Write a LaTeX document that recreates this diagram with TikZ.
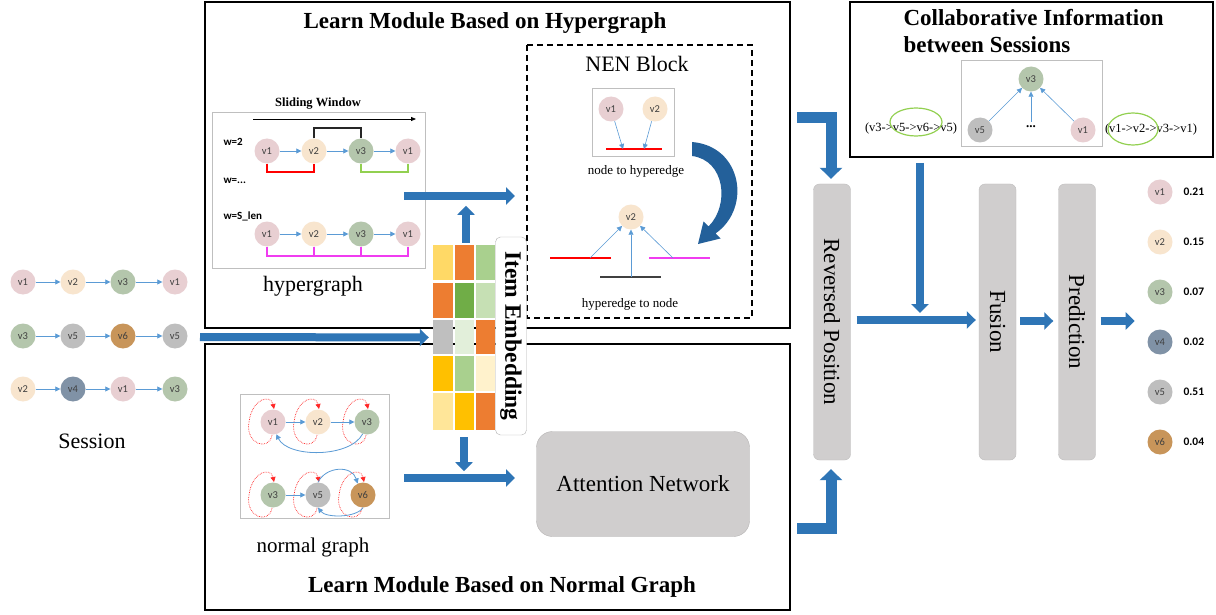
\documentclass[tikz,border=0pt]{standalone}
\usepackage{fontspec}
\setmainfont{Liberation Serif}
\newfontfamily\carl{Carlito}
\usetikzlibrary{arrows.meta,calc}
\definecolor{bblue}{HTML}{2E75B6}
\definecolor{dblue}{HTML}{23609A}
\definecolor{lblue}{HTML}{5B9BD5}
\definecolor{cA}{HTML}{E8CFD2}
\definecolor{cB}{HTML}{F8E5CE}
\definecolor{cC}{HTML}{B4C6AC}
\definecolor{cD}{HTML}{8092A6}
\definecolor{cE}{HTML}{BEBEBE}
\definecolor{cF}{HTML}{C8955A}
\definecolor{boxg}{HTML}{D0CECE}
\definecolor{magent}{HTML}{F03CF0}
\definecolor{lgreen}{HTML}{92D050}
\definecolor{eY}{HTML}{FFD966}
\definecolor{eO}{HTML}{ED7D31}
\definecolor{eG}{HTML}{A9D08E}
\definecolor{eDG}{HTML}{70AD47}
\definecolor{eLG}{HTML}{C6E0B4}
\definecolor{eGr}{HTML}{BFBFBF}
\definecolor{eVLG}{HTML}{E2EFDA}
\definecolor{eAm}{HTML}{FFC000}
\definecolor{eCr}{HTML}{FFF2CC}
\definecolor{eLY}{HTML}{FFE699}
\tikzset{
  vc/.style={circle,minimum size=25pt,inner sep=0pt,font=\carl\fontsize{10.5}{10.5}\selectfont,text=black!75},
  va/.style={vc,fill=cA}, vb/.style={vc,fill=cB}, vcc/.style={vc,fill=cC},
  vd/.style={vc,fill=cD}, ve/.style={vc,fill=cE}, vf/.style={vc,fill=cF},
  sarr/.style={draw=lblue,line width=0.8pt,-{Triangle[length=5pt,width=5pt]}},
  bigarr/.style={draw=bblue,line width=8pt,-{Triangle[length=9pt,width=17pt]}},
  elb/.style={draw=bblue,line width=11pt,-{Triangle[length=11pt,width=22pt]}},
  modbox/.style={draw=black,line width=1.3pt},
  thinbox/.style={draw=black!25,line width=0.8pt},
  gbox/.style={fill=boxg,draw=boxg!92!black,rounded corners=6pt,rotate=-90,minimum width=276pt,minimum height=37pt,font=\fontsize{23}{23}\selectfont},
  loopst/.style={draw=red!85,densely dotted,line width=0.7pt,-{Triangle[length=5pt,width=5pt]}},
  ttl/.style={font=\bfseries\fontsize{23}{23}\selectfont},
}
\newcommand\sloop[1]{\draw[loopst] ($(#1)+(-1,13)$) .. controls ($(#1)+(-4,30)$) and ($(#1)+(-28,22)$) .. ($(#1)+(-24,0)$) .. controls ($(#1)+(-21,-24)$) and ($(#1)+(-2,-28)$) .. ($(#1)+(1,-13)$);}
\begin{document}
\begin{tikzpicture}[x=1pt,y=-1pt]
\useasboundingbox (0,0) rectangle (1216,615);
\fill[white] (0,0) rectangle (1216,615);
% ---------- module boxes
\draw[modbox] (205,2) rectangle (790,328);
\draw[modbox] (205,344) rectangle (790,610);
\node[ttl] (t1) at (485,23) {Learn Module Based on Hypergraph};
\node[ttl] (t2) at (502,587) {Learn Module Based on Normal Graph};
% ---------- sessions
\node[va] (s11) at (23,282) {v1}; \node[vb] (s12) at (73,282) {v2};
\node[vcc] (s13) at (123,282) {v3}; \node[va] (s14) at (175,282) {v1};
\node[vcc] (s21) at (23,336) {v3}; \node[ve] (s22) at (73,336) {v5};
\node[vf] (s23) at (123,336) {v6}; \node[ve] (s24) at (175,336) {v5};
\node[vb] (s31) at (23,389) {v2}; \node[vd] (s32) at (73,389) {v4};
\node[va] (s33) at (123,389) {v1}; \node[vcc] (s34) at (175,389) {v3};
\foreach \r in {1,2,3}{
  \draw[sarr] (s\r1) -- (s\r2); \draw[sarr] (s\r2) -- (s\r3); \draw[sarr] (s\r3) -- (s\r4);}
\node[font=\fontsize{22}{22}\selectfont] (sess) at (92,441) {Session};
% ---------- hypergraph
\draw[thinbox] (212,112) rectangle (425,268);
\node[font=\bfseries\fontsize{12.5}{12.5}\selectfont] (swt) at (318,104) {Sliding Window};
\coordinate (sw1) at (253,119); \coordinate (sw2) at (416,119);
\draw[line width=0.8pt,-{Triangle[length=5pt,width=4pt]}] (sw1) -- (sw2);
\node[anchor=west,font=\carl\bfseries\fontsize{11}{11}\selectfont] (w1) at (220,142) {w=2};
\node[anchor=west,font=\carl\bfseries\fontsize{11}{11}\selectfont] (w2) at (220,181) {w=...};
\node[anchor=west,font=\carl\bfseries\fontsize{11}{11}\selectfont] (w3) at (220,216) {w=S\_len};
\node[va] (h11) at (267,151) {v1}; \node[vb] (h12) at (314,151) {v2};
\node[vcc] (h13) at (361,151) {v3}; \node[va] (h14) at (408,151) {v1};
\draw[sarr] (h11) -- (h12); \draw[sarr] (h12) -- (h13); \draw[sarr] (h13) -- (h14);
\coordinate (rb) at (0,172); \coordinate (tb) at (0,128); \coordinate (mb) at (0,256);
\draw[red,line width=1.3pt] (h11.south) -- (h11.south |- rb) -- (h12.south |- rb) -- (h12.south);
\draw[lgreen,line width=1.3pt] (h13.south) -- (h13.south |- rb) -- (h14.south |- rb) -- (h14.south);
\draw[black!85,line width=1.3pt] (h12.north) -- (h12.north |- tb) -- (h13.north |- tb) -- (h13.north);
\node[va] (k1) at (267,234) {v1}; \node[vb] (k2) at (314,234) {v2};
\node[vcc] (k3) at (361,234) {v3}; \node[va] (k4) at (408,234) {v1};
\draw[sarr] (k1) -- (k2); \draw[sarr] (k2) -- (k3); \draw[sarr] (k3) -- (k4);
\draw[magent,line width=1.3pt] (k1.south) -- (k1.south |- mb) -- (k4.south |- mb) -- (k4.south);
\draw[magent,line width=1.3pt] (k2.south) -- (k2.south |- mb);
\draw[magent,line width=1.3pt] (k3.south) -- (k3.south |- mb);
\node[font=\fontsize{22}{22}\selectfont] (hgl) at (313,286) {hypergraph};
% ---------- NEN block
\draw[line width=1.3pt,dash pattern=on 6pt off 4pt] (527,45) rectangle (752,318);
\node[font=\fontsize{22}{22}\selectfont] (nen) at (637,64) {NEN Block};
\draw[thinbox] (592,88) rectangle (674,156);
\node[va] (e1) at (611,109) {v1}; \node[vb] (e2) at (655,109) {v2};
\coordinate (rl1) at (606,149); \coordinate (rl2) at (662,149);
\draw[red,line width=1.3pt] (rl1) -- (rl2);
\coordinate (ta) at (623,149); \coordinate (tb2) at (644,149);
\draw[sarr,line width=0.6pt] (e1) -- (ta); \draw[sarr,line width=0.6pt] (e2) -- (tb2);
\node[font=\fontsize{13}{13}\selectfont] (n2h) at (636,171) {node to hyperedge};
\node[vb] (f2) at (631,217) {v2};
\coordinate (ra) at (550,258); \coordinate (rb2) at (611,258);
\coordinate (ma) at (649,258); \coordinate (mb2) at (710,258);
\coordinate (ga) at (600,277); \coordinate (gb) at (661,277);
\draw[red,line width=1.3pt] (ra) -- (rb2);
\draw[magent,line width=1.3pt] (ma) -- (mb2);
\draw[black!75,line width=1.6pt] (ga) -- (gb);
\coordinate (fa) at (590,258); \coordinate (fb) at (631,277); \coordinate (fc) at (673,258);
\draw[sarr,line width=0.6pt] (fa) -- (f2); \draw[sarr,line width=0.6pt] (fb) -- (f2.south); \draw[sarr,line width=0.6pt] (fc) -- (f2);
\node[font=\fontsize{13}{13}\selectfont] (h2n) at (630,304) {hyperedge to node};
\fill[dblue] (692,142) .. controls (742,146) and (752,208) .. (715.5,233.5) -- (720.5,238.5) -- (698,244) -- (703.5,221.5) -- (708.5,226.5) .. controls (730,205) and (725,160) .. (692,156) -- cycle;
% ---------- item embedding
\fill[eY] (433,245) rectangle (453,280); \fill[eO] (455,245) rectangle (474,280); \fill[eG] (476,245) rectangle (495,280);
\fill[eO] (433,283) rectangle (453,318); \fill[eDG] (455,283) rectangle (474,318); \fill[eLG] (476,283) rectangle (495,318);
\fill[eGr] (433,320) rectangle (453,354); \fill[eVLG] (455,320) rectangle (474,354); \fill[eO] (476,320) rectangle (495,354);
\fill[eAm] (433,356) rectangle (453,391); \fill[eG] (455,356) rectangle (474,391); \fill[eCr] (476,356) rectangle (495,391);
\fill[eLY] (433,393) rectangle (453,430); \fill[eAm] (455,393) rectangle (474,430); \fill[eO] (476,393) rectangle (495,430);
\node[inner sep=0pt,minimum width=62pt,minimum height=185pt] (emb) at (464,337.5) {};
\node[draw=black!30,fill=white,rounded corners=5pt,rotate=-90,minimum width=198pt,minimum height=31pt,font=\bfseries\fontsize{23.5}{23.5}\selectfont] (embl) at (511,336) {Item Embedding};
% ---------- normal graph
\draw[thinbox] (240,394) rectangle (389,518);
\node[va] (n1) at (273,422) {v1}; \node[vb] (n2) at (318,422) {v2}; \node[vcc] (n3) at (367,422) {v3};
\node[vcc] (m1) at (273,495) {v3}; \node[ve] (m2) at (318,495) {v5}; \node[vf] (m3) at (363,495) {v6};
\sloop{n1} \sloop{n2} \sloop{n3} \sloop{m1} \sloop{m2} \sloop{m3}
\draw[sarr] (n1) -- (n2); \draw[sarr] (n2) -- (n3);
\draw[sarr] (n3.250) .. controls (350,458) and (288,458) .. (n1.285);
\draw[sarr] (m1) -- (m2);
\draw[sarr] (m2.north) .. controls (326,466) and (352,465) .. (m3.115);
\draw[sarr] (m3.south) .. controls (356,518) and (326,518) .. (m2.south);
\node[font=\fontsize{21}{21}\selectfont] (ngl) at (313,547) {normal graph};
% ---------- attention
\node[fill=boxg,draw=boxg!88!black,rounded corners=16pt,minimum width=213pt,minimum height=105pt,font=\fontsize{23}{23}\selectfont] (att) at (643,484) {Attention Network};
% ---------- collaborative
\draw[modbox] (850,2) rectangle (1213,157);
\node[ttl,anchor=west] (ct1) at (900,18) {Collaborative Information};
\node[ttl,anchor=west] (ct2) at (900,45) {between Sessions};
\draw[thinbox] (961,60) rectangle (1102,146);
\node[vcc] (c3) at (1031,79) {v3}; \node[ve] (c5) at (980,130) {v5}; \node[va] (c1) at (1083,130) {v1};
\node[font=\bfseries\fontsize{13}{13}\selectfont,inner sep=1pt] (dots) at (1031,127) {...};
\draw[sarr,line width=0.6pt] (c5) -- (c3); \draw[sarr,line width=0.6pt] (c1) -- (c3);
\draw[sarr,line width=0.6pt] ($(dots.north)+(0,-3)$) -- (c3.south);
\node[font=\fontsize{12.5}{12.5}\selectfont] (sq1) at (911,128) {(v3->v5->v6->v5)};
\node[font=\fontsize{12.5}{12.5}\selectfont] (sq2) at (1151,129) {(v1->v2->v3->v1)};
\draw[lgreen,line width=1.2pt] (916,122) ellipse (26 and 14);
\draw[lgreen,line width=1.2pt] (1133,129) ellipse (25 and 16);
% ---------- pipeline boxes
\node[gbox] (rev) at (832,322) {Reversed Position};
\node[gbox] (fus) at (997.5,322) {Fusion};
\node[gbox] (pred) at (1077,322) {Prediction};
% ---------- outputs
\node[va] (o1) at (1160,192) {v1}; \node[vb] (o2) at (1160,242) {v2}; \node[vcc] (o3) at (1160,292) {v3};
\node[vd] (o4) at (1160,342) {v4}; \node[ve] (o5) at (1160,392) {v5}; \node[vf] (o6) at (1160,442) {v6};
\foreach \i/\p in {1/0.21,2/0.15,3/0.07,4/0.02,5/0.51,6/0.04}{
  \node[anchor=west,font=\carl\bfseries\fontsize{11.5}{11.5}\selectfont] (p\i) at (1180,142+50*\i) {\p};}
% ---------- big arrows
\coordinate (hgOut) at (404,196); \coordinate (nenIn) at (515,196);
\draw[bigarr] (hgOut) -- (nenIn);
\coordinate (ngOut) at (404,478); \coordinate (attIn) at (515,478);
\draw[bigarr] (ngOut) -- (attIn);
\draw[bigarr] ($(emb.north)+(2,-2)$) -- ++(0,-37);
\draw[bigarr] ($(emb.south)+(0,7)$) -- ++(0,34);
\coordinate (sesOut) at (200,337);
\draw[bigarr,shorten >=4pt] (sesOut) -- (emb.west);
\coordinate (hOut) at (797,118); \coordinate (aOut) at (797,528);
\draw[elb] (hOut) -| ($(rev.west)+(-1,-5)$);
\draw[elb] (aOut) -| ($(rev.east)+(-1,9)$);
\draw[bigarr] ($(rev.north)+(6,-2)$) -- ($(fus.south)+(-3,-2)$);
\coordinate (cOut) at (920,163);
\draw[bigarr] (cOut) -- ($(rev.north -| cOut)+(0,-9)$);
\draw[bigarr] ($(fus.north)+(4,-1)$) -- ($(pred.south)+(-5,-1)$);
\draw[bigarr] ($(pred.north)+(5,-1)$) -- ++(34,0);
\end{tikzpicture}
\end{document}
